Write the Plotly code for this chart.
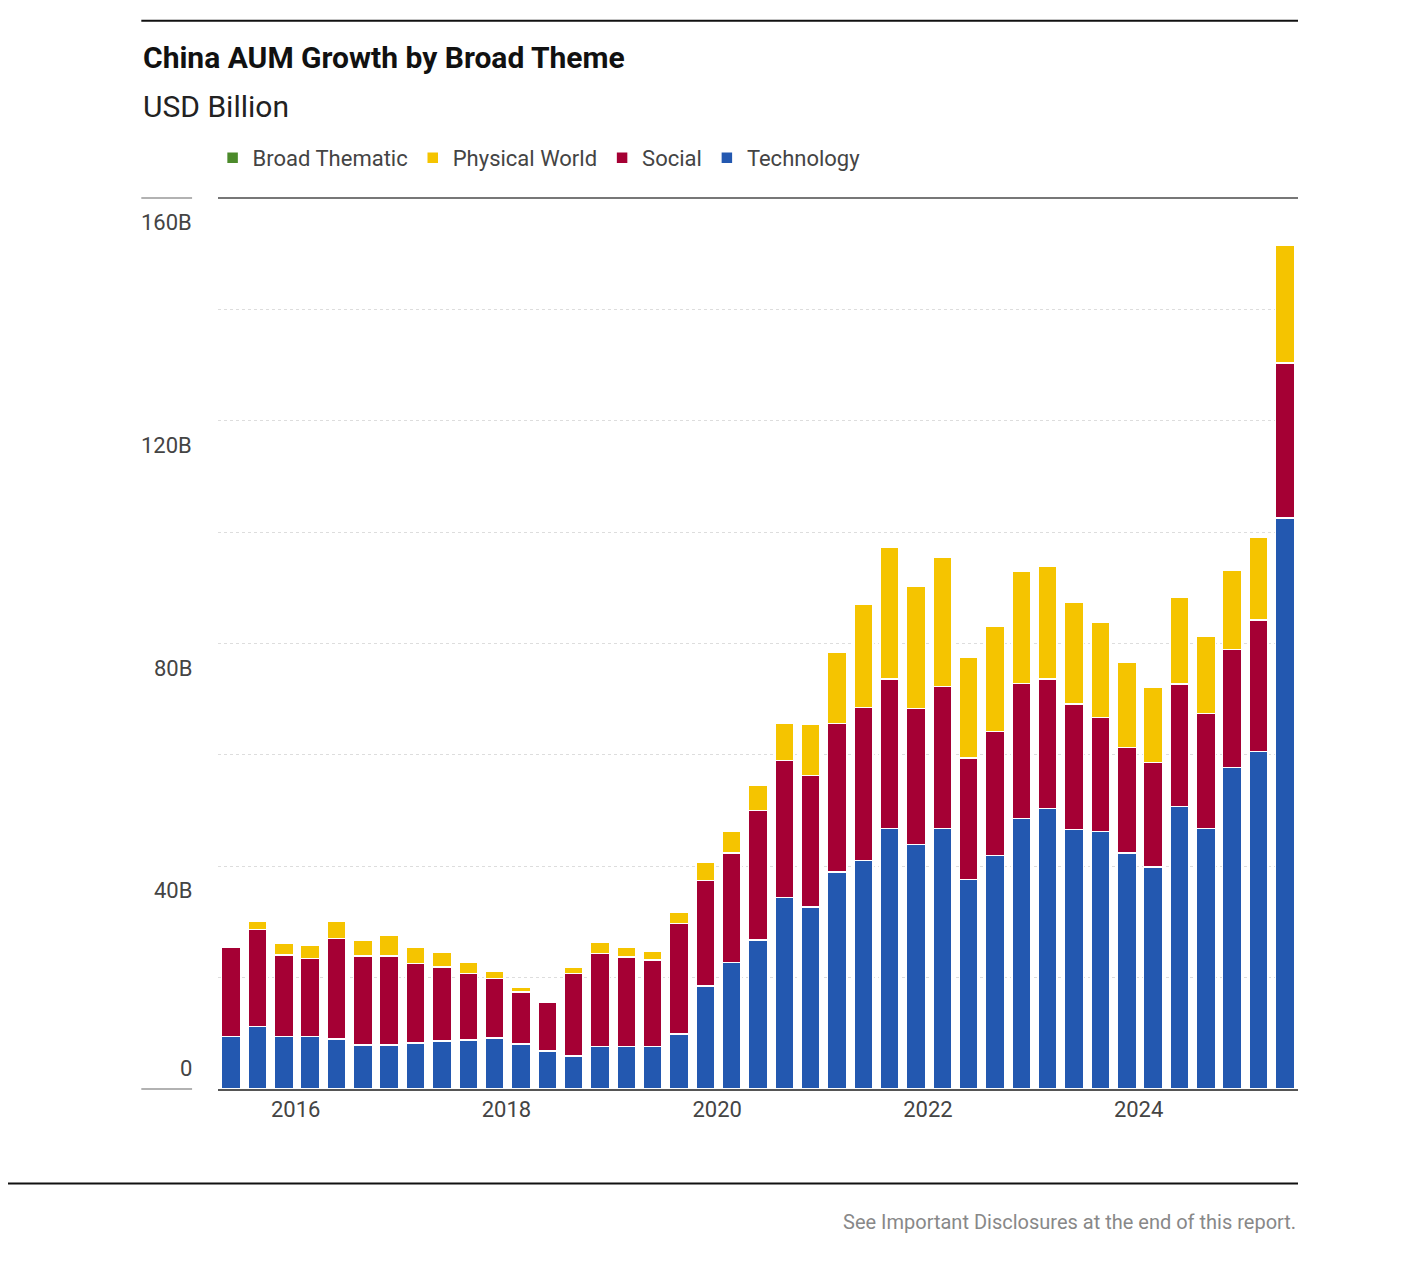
import plotly.graph_objects as go

# Data (quarterly, USD billion), index 0 = first quarter shown
quarters = list(range(41))
technology = [9.4, 11.2, 9.4, 9.4, 9.0, 7.9, 7.9, 8.3, 8.6, 8.8, 9.2, 8.1, 6.8, 5.9, 7.6, 7.6, 7.6, 9.9,
              18.5, 22.7, 26.8, 34.4, 32.7, 39.0, 41.0, 46.8, 43.9, 46.8, 37.6, 41.9, 48.6, 50.4, 46.6,
              46.2, 42.4, 39.9, 50.7, 46.8, 57.7, 60.6, 102.5]
social = [16.1, 17.4, 14.7, 14.0, 18.0, 16.0, 16.0, 14.2, 13.3, 11.9, 10.6, 9.3, 8.7, 14.8, 16.7, 16.1,
          15.6, 19.8, 18.9, 19.7, 23.2, 24.6, 23.6, 26.6, 27.5, 26.8, 24.4, 25.5, 21.8, 22.3, 24.2, 23.2,
          22.5, 20.5, 18.9, 18.7, 22.0, 20.6, 21.2, 23.6, 27.9]
physical = [0.4, 1.6, 2.0, 2.5, 3.2, 2.9, 3.8, 3.0, 2.7, 2.0, 1.4, 0.9, 0.3, 1.1, 2.0, 1.8, 1.6, 2.1,
            3.4, 3.8, 4.5, 6.6, 9.2, 12.8, 18.6, 23.7, 22.0, 23.2, 18.1, 18.9, 20.2, 20.3, 18.3, 17.1,
            15.3, 13.5, 15.6, 13.9, 14.3, 14.9, 21.2]
broad = [0.1] * 41

tick_vals_x = [2.45, 10.45, 18.45, 26.45, 34.45]
tick_text_x = ["2016", "2018", "2020", "2022", "2024"]
tick_vals_y = [0, 40, 80, 120, 160]
tick_text_y = ["0", "40B", "80B", "120B", "160B"]

FONT = "Liberation Sans Narrow, Roboto, Arial"

fig = go.Figure()
series = [("Broad Thematic", broad, "#4C8A2B"),
          ("Physical World", physical, "#F5C400"),
          ("Social", social, "#A50034"),
          ("Technology", technology, "#2358B0")]
# stack order: technology bottom
for name, vals, col in reversed(series):
    fig.add_trace(go.Bar(x=quarters, y=vals, name=name, marker_color=col,
                         marker_line=dict(color="white", width=1.5), width=0.72))

fig.update_layout(
    barmode="stack", width=1393, height=1263, plot_bgcolor="white", paper_bgcolor="white",
    margin=dict(l=210, r=103, t=190, b=182),
    font=dict(family=FONT, size=18, color="#444"),
    legend=dict(orientation="h", x=-0.005, y=1.045, xanchor="left", yanchor="middle",
                traceorder="reversed", font=dict(size=22, color="#444"), itemwidth=30),
    showlegend=True,
    xaxis=dict(range=[-0.5, 40.5], tickvals=tick_vals_x, ticktext=tick_text_x, showgrid=False,
               showline=True, linecolor="#555", linewidth=2, ticks="", tickfont=dict(size=22, color="#444")),
    yaxis=dict(range=[0, 160], dtick=20, showticklabels=False, showgrid=True, gridcolor="#ddd",
               griddash="dot", zeroline=False, showline=False),
)

# y labels placed like the reference
for v, t in zip(tick_vals_y, tick_text_y):
    fig.add_annotation(x=-0.022, xref="paper", y=v, yref="y", text=t, showarrow=False,
                       xanchor="right", yanchor="bottom" if v == 0 else "top",
                       yshift=6 if v == 0 else -10, font=dict(size=22, color="#444"))

shapes = [
    dict(type="line", xref="paper", yref="paper", x0=-0.071, x1=1.0, y0=1.199, y1=1.199,
         line=dict(color="#111", width=2)),
    dict(type="line", xref="paper", yref="paper", x0=0, x1=1.0, y0=1.0, y1=1.0,
         line=dict(color="#777", width=2)),
    dict(type="line", xref="paper", yref="paper", x0=-0.071, x1=-0.024, y0=1.0, y1=1.0,
         line=dict(color="#999", width=1.5)),
    dict(type="line", xref="paper", yref="paper", x0=-0.071, x1=-0.024, y0=0, y1=0,
         line=dict(color="#999", width=1.5)),
    dict(type="line", xref="paper", yref="paper", x0=-0.202, x1=1.0, y0=-0.106, y1=-0.106,
         line=dict(color="#111", width=2)),
]
fig.update_layout(shapes=shapes)

fig.add_annotation(x=-0.071, xref="paper", y=1.158, yref="paper", text="<b>China AUM Growth by Broad Theme</b>",
                   showarrow=False, xanchor="left", yanchor="middle", font=dict(size=30, color="#111"))
fig.add_annotation(x=-0.071, xref="paper", y=1.103, yref="paper", text="USD Billion",
                   showarrow=False, xanchor="left", yanchor="middle", font=dict(size=30, color="#222"))
fig.add_annotation(x=1.0, xref="paper", y=-0.149, yref="paper",
                   text="See Important Disclosures at the end of this report.",
                   showarrow=False, xanchor="right", yanchor="middle", font=dict(size=20, color="#888"))

fig.write_html("out.html")
